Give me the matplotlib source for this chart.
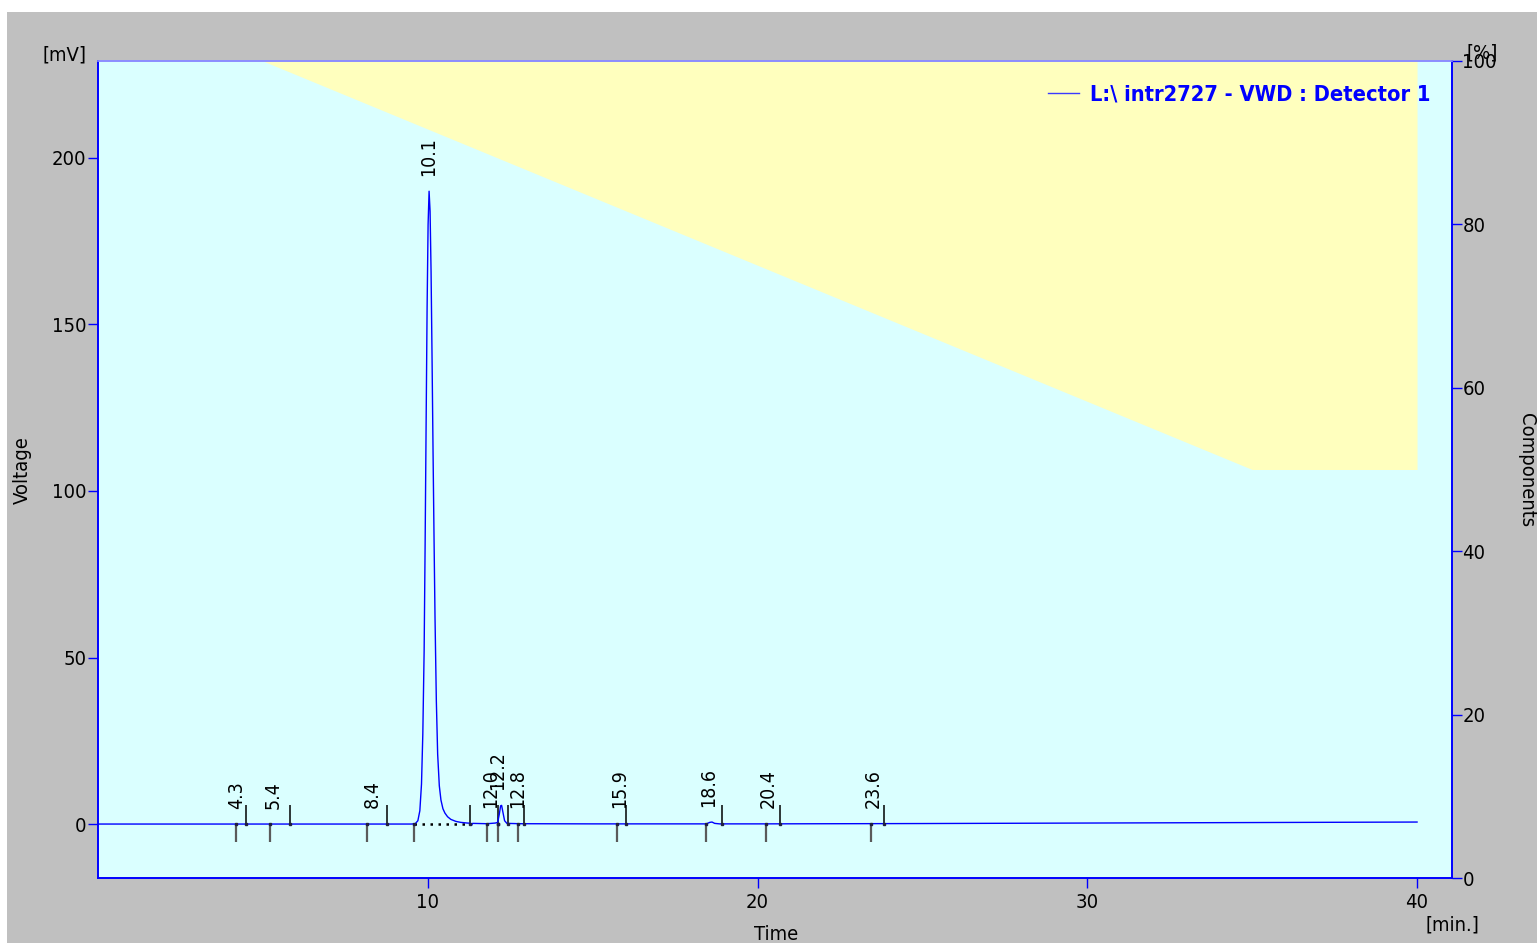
import matplotlib
matplotlib.use("Agg")
import matplotlib.pyplot as plt
from matplotlib.patches import Rectangle
from matplotlib.lines import Line2D

plt.rcParams['font.family'] = ['DejaVu Sans Condensed', 'DejaVu Sans']
plt.rcParams['font.stretch'] = 'condensed'

# ---------------- data ----------------
trace_time = [0.0, 4.0, 8.0, 9.50, 9.62, 9.70, 9.76, 9.81, 9.85, 9.89, 9.92, 9.95,
              9.98, 10.01, 10.04, 10.07, 10.10, 10.13, 10.16, 10.19, 10.22, 10.26,
              10.30, 10.35, 10.40, 10.46, 10.52, 10.60, 10.70, 10.85, 11.00, 11.20,
              11.30, 11.33, 11.36, 11.80, 12.05, 12.12, 12.17, 12.21, 12.24, 12.28,
              12.33, 12.40, 12.80, 15.00, 18.45, 18.55, 18.62, 18.70, 18.85, 20.00,
              25.00, 30.00, 35.00, 40.00]
trace_mv = [0.0, 0.0, 0.0, 0.0, 0.1, 1.0, 4.0, 12.0, 27.0, 52.0, 84.0, 120.0,
            155.0, 180.0, 190.0, 184.0, 166.0, 140.0, 112.0, 86.0, 62.0, 37.0,
            21.0, 11.5, 7.2, 4.6, 3.3, 2.2, 1.4, 0.8, 0.5, 0.3,
            0.25, -0.4, 0.2, 0.1, 0.3, 0.5, 3.0, 5.5, 5.6, 3.5,
            1.0, 0.2, 0.1, 0.05, 0.05, 0.5, 0.6, 0.2, 0.05, 0.05,
            0.15, 0.3, 0.45, 0.6]

peak_labels = ["4.3", "5.4", "8.4", "10.1", "12.0", "12.2", "12.8", "15.9", "18.6", "20.4", "23.6"]
peak_times = [4.3, 5.4, 8.4, 10.1, 12.0, 12.2, 12.8, 15.9, 18.6, 20.4, 23.6]
peak_heights = [0.0, 0.0, 0.1, 190.0, 0.3, 5.7, 0.2, 0.1, 0.5, 0.2, 0.3]
peak_starts = [4.18, 5.21, 8.15, 9.58, 11.79, 12.12, 12.73, 15.75, 18.44, 20.26, 23.45]
peak_ends = [4.48, 5.82, 8.76, 11.27, 12.12, 12.42, 12.91, 16.02, 18.93, 20.68, 23.85]

gradient_time = [0, 5, 35, 40]
gradient_pct = [100, 100, 50, 50]

x_ticks = [10, 20, 30, 40]
y_ticks = [0, 50, 100, 150, 200]
pct_ticks = [0, 20, 40, 60, 80, 100]

legend_label = "L:\\ intr2727 - VWD : Detector 1"

# ---------------- style ----------------
W, H = 1537, 943
BLUE = '#0000FF'
CYAN = '#DAFFFF'
YELLOW = '#FFFFBE'
GRAY = '#C0C0C0'
FS = 14.5

fig = plt.figure(figsize=(W / 100, H / 100), dpi=100, facecolor='white')
fig.patches.append(Rectangle((7 / W, 0), 1, (H - 12) / H, transform=fig.transFigure,
                             facecolor=GRAY, edgecolor='none', zorder=-10))

ax = fig.add_axes([98 / W, 65 / H, 1354 / W, 817 / H])
ax2 = ax.twinx()
ax.set_zorder(2)
ax2.set_zorder(1)
ax.patch.set_visible(False)
ax2.patch.set_visible(True)
ax2.patch.set_facecolor(CYAN)

ax.set_xlim(0, 41.06)
ax.set_ylim(-16.2, 229.1)
ax2.set_ylim(0, 100)

# gradient (components) area
ax2.fill_between(gradient_time, gradient_pct, 100, color=YELLOW, lw=0)

# trace
ax.plot(trace_time, trace_mv, color=BLUE, lw=1.0, zorder=5)

# integration baseline under main peak
ax.plot([peak_starts[3], peak_ends[3]], [0, 0], color='black', lw=1.8,
        ls=(0, (1, 2.2)), zorder=4)

# peak start / end markers
ax.vlines(peak_starts, -5.5, 0, color='#5a5a5a', lw=1.6, zorder=3)
ax.vlines(peak_ends, 0, 5.7, color='black', lw=1.1, zorder=3)
ax.plot(peak_starts + peak_ends, [0] * (len(peak_starts) + len(peak_ends)),
        ls='none', marker='s', ms=1.8, color='#202040', zorder=6)

# peak labels
for lab, t, h in zip(peak_labels, peak_times, peak_heights):
    ax.annotate(lab, xy=(t, h), xytext=(-2, 11), textcoords='offset points',
                rotation=90, ha='center', va='bottom', fontsize=14, color='black',
                zorder=7)

# ticks
ax.set_xticks(x_ticks)
ax.set_yticks(y_ticks)
ax2.set_yticks(pct_ticks)
ax.tick_params(axis='both', direction='out', length=7.5, width=1, color=BLUE,
               labelcolor='black', labelsize=FS)
ax.tick_params(axis='y', pad=1)
ax.tick_params(axis='x', pad=3)
ax2.tick_params(axis='y', direction='out', length=7.5, width=1, color=BLUE,
                labelcolor='black', labelsize=FS, pad=0)

for a in (ax, ax2):
    for s in ('left', 'right', 'bottom'):
        a.spines[s].set_color(BLUE)
        a.spines[s].set_linewidth(1.2)
    a.spines['top'].set_color('#8c8cff')
    a.spines['top'].set_linewidth(1.2)

# legend
leg = ax.legend(handles=[Line2D([], [], color='#3a3aff', lw=1.0)], labels=[legend_label],
                loc='center right', bbox_to_anchor=(1332 / 1354, 783 / 817),
                frameon=False, borderpad=0, borderaxespad=0, handlelength=1.4,
                handletextpad=0.5, prop=dict(weight='bold', size=15.7))
for txt in leg.get_texts():
    txt.set_color(BLUE)

# axis captions
def ftext(px, py, s, **kw):
    fig.text(px / W, 1 - py / H, s, ha='center', va='center', fontsize=FS, **kw)

ftext(65, 55, "[mV]")
ftext(1482, 53, "[%]")
ftext(1452, 925, "[min.]")
ftext(776, 935, "Time")
ftext(22, 470, "Voltage", rotation=90)
ftext(1527, 470, "Components", rotation=-90)

fig.savefig("out.png", dpi=100, facecolor='white')
